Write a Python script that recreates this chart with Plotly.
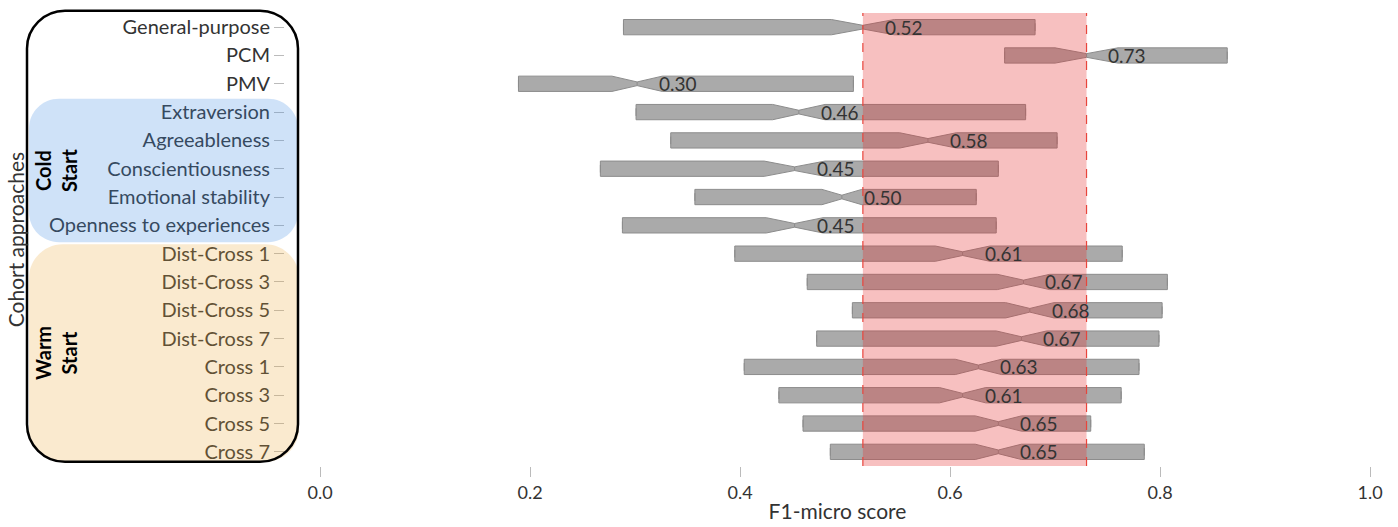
import plotly.graph_objects as go

# ---------------- data ----------------
approaches = ["General-purpose", "PCM", "PMV", "Extraversion", "Agreeableness",
              "Conscientiousness", "Emotional stability", "Openness to experiences",
              "Dist-Cross 1", "Dist-Cross 3", "Dist-Cross 5", "Dist-Cross 7",
              "Cross 1", "Cross 3", "Cross 5", "Cross 7"]
q1 = [0.289, 0.652, 0.189, 0.301, 0.334, 0.267, 0.357, 0.288,
      0.395, 0.464, 0.507, 0.473, 0.404, 0.437, 0.460, 0.486]
median = [0.517, 0.730, 0.302, 0.456, 0.579, 0.452, 0.497, 0.452,
          0.612, 0.670, 0.676, 0.668, 0.627, 0.612, 0.646, 0.646]
q3 = [0.681, 0.864, 0.508, 0.672, 0.702, 0.646, 0.625, 0.644,
      0.764, 0.807, 0.802, 0.799, 0.780, 0.763, 0.734, 0.785]
notch = [0.030, 0.030, 0.024, 0.025, 0.027, 0.029, 0.019, 0.027,
         0.026, 0.025, 0.023, 0.024, 0.022, 0.022, 0.022, 0.022]
x_ticks = [0.0, 0.2, 0.4, 0.6, 0.8, 1.0]

# ---------------- geometry helpers (layout only) ----------------
WIDTH, HEIGHT = 1398, 527
L, R, T, B = 285, 1390, 13.2, 471.2
PW, PH = R - L, B - T


def fx(px):
    return (px - L) / PW


def fy(py):
    return (B - py) / PH


def rounded_path(x0, y0, x1, y1, r):
    k = 0.5523 * r

    def p(x, y):
        return f"{fx(x):.5f},{fy(y):.5f}"
    return (f"M {p(x0 + r, y0)} L {p(x1 - r, y0)} "
            f"C {p(x1 - r + k, y0)} {p(x1, y0 + r - k)} {p(x1, y0 + r)} "
            f"L {p(x1, y1 - r)} "
            f"C {p(x1, y1 - r + k)} {p(x1 - r + k, y1)} {p(x1 - r, y1)} "
            f"L {p(x0 + r, y1)} "
            f"C {p(x0 + r - k, y1)} {p(x0, y1 - r + k)} {p(x0, y1 - r)} "
            f"L {p(x0, y0 + r)} "
            f"C {p(x0, y0 + r - k)} {p(x0 + r - k, y0)} {p(x0 + r, y0)} Z")


positions = list(range(len(approaches)))

fig = go.Figure()
fig.add_trace(go.Box(
    y=positions, q1=q1, median=median, q3=q3,
    lowerfence=q1, upperfence=q3, notchspan=notch,
    orientation="h", notched=True, notchwidth=0.38, width=0.54,
    boxpoints=False, fillcolor="#aaaaaa",
    line=dict(color="#8c8c8c", width=1), showlegend=False, hoverinfo="skip"))

shapes = [
    # coloured group regions (over the labels, translucent)
    dict(type="path", xref="paper", yref="paper", layer="above",
         path=rounded_path(29, 100, 298, 245, 30),
         fillcolor="rgba(63,139,227,0.25)", line=dict(width=0)),
    dict(type="path", xref="paper", yref="paper", layer="above",
         path=rounded_path(29, 247, 299, 467, 34),
         fillcolor="rgba(235,170,65,0.25)", line=dict(width=0)),
    dict(type="path", xref="paper", yref="paper", layer="above",
         path=rounded_path(27, 11, 298, 467, 38),
         fillcolor="rgba(0,0,0,0)", line=dict(color="black", width=2.5)),
    # highlighted band between general-purpose and PCM medians
    dict(type="rect", xref="x", yref="paper", layer="above",
         x0=median[0], x1=median[1], y0=0, y1=1,
         fillcolor="rgba(228,45,45,0.30)", line=dict(width=0)),
    dict(type="line", xref="x", yref="paper", layer="above",
         x0=median[0], x1=median[0], y0=0, y1=1,
         line=dict(color="#e8453c", width=1.2, dash="dash")),
    dict(type="line", xref="x", yref="paper", layer="above",
         x0=median[1], x1=median[1], y0=0, y1=1,
         line=dict(color="#e8453c", width=1.2, dash="dash")),
]

annotations = []
for pos, m in zip(positions, median):
    annotations.append(dict(x=m + 0.019, y=pos, xref="x", yref="y",
                            text=f"{m:.2f}", showarrow=False, xanchor="left",
                            yanchor="middle", font=dict(size=19, color="#333333")))

annotations += [
    dict(x=fx(15), y=fy(243), xref="paper", yref="paper", text="Cohort approaches",
         textangle=-90, showarrow=False, xanchor="center", yanchor="middle",
         font=dict(size=21, color="#333333")),
    dict(x=fx(56), y=fy(172), xref="paper", yref="paper", text="<b>Cold<br>Start</b>",
         textangle=-90, showarrow=False, xanchor="center", yanchor="middle",
         font=dict(size=20, color="black")),
    dict(x=fx(56), y=fy(357), xref="paper", yref="paper", text="<b>Warm<br>Start</b>",
         textangle=-90, showarrow=False, xanchor="center", yanchor="middle",
         font=dict(size=20, color="black")),
]

fig.update_layout(
    width=WIDTH, height=HEIGHT,
    margin=dict(l=L, r=WIDTH - R, t=T, b=HEIGHT - B),
    paper_bgcolor="white", plot_bgcolor="white",
    font=dict(family="Lato", color="#333333"),
    shapes=shapes, annotations=annotations,
    xaxis=dict(range=[-0.03333, 1.019], tickvals=x_ticks, tickformat=".1f",
               showgrid=False, zeroline=False, showline=False,
               ticks="outside", ticklen=10, tickcolor="#bbbbbb",
               tickfont=dict(size=18, color="#333333"),
               title=dict(text="F1-micro score", font=dict(size=21, color="#333333"),
                          standoff=2)),
    yaxis=dict(range=[15.5, -0.5], tickvals=positions, ticktext=approaches,
               showgrid=False, zeroline=False, showline=False,
               ticks="outside", ticklen=10, tickcolor="#bbbbbb",
               tickfont=dict(size=20, color="#333333")),
)

fig.write_html("out.html",
               config={"displayModeBar": False},
               post_script="document.body.style.margin='0px';"
                           "document.body.style.overflow='hidden';")
